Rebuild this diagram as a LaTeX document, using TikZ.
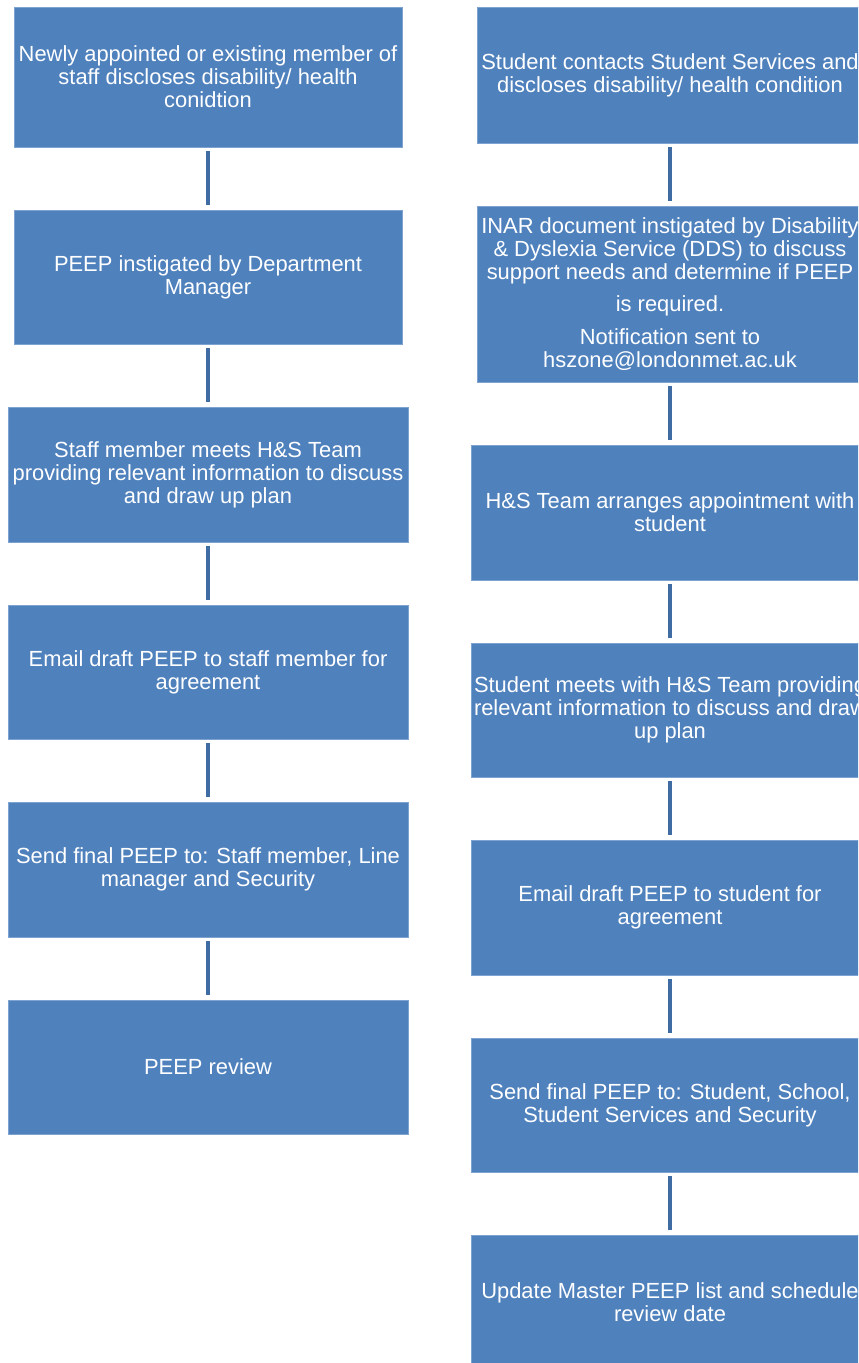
\documentclass[tikz,border=0pt]{standalone}
\usepackage{fontspec}
\setmainfont{Liberation Sans}
\definecolor{boxblue}{HTML}{4F81BD}
\definecolor{boxedge}{HTML}{7FA3D0}
\definecolor{linkblue}{HTML}{3E6CA3}
\begin{document}
\begin{tikzpicture}[x=1bp,y=-1bp,
  stepbox/.style={draw=boxedge,line width=0.8bp,fill=boxblue,text=white,
    align=center,inner sep=0pt,font=\fontsize{21.9bp}{23bp}\selectfont},
  link/.style={draw=linkblue,line width=4.5bp,shorten <=4bp,shorten >=4.5bp}]
\useasboundingbox (0,0) rectangle (858,1363);
\clip (0,0) rectangle (858,1363);
% left column
\node[stepbox,minimum width=388bp,minimum height=140bp] (L1) at (208,77)
  {Newly appointed or existing member of\\staff discloses disability/ health\\conidtion};
\node[stepbox,minimum width=388bp,minimum height=134bp] (L2) at (208,277)
  {PEEP instigated by Department\\Manager};
\node[stepbox,minimum width=400bp,minimum height=135bp] (L3) at (208,474.5)
  {Staff member meets H\&S Team\\providing relevant information to discuss\\and draw up plan};
\node[stepbox,minimum width=400bp,minimum height=134bp] (L4) at (208,672)
  {Email draft PEEP to staff member for\\agreement};
\node[stepbox,minimum width=400bp,minimum height=135bp] (L5) at (208,869.5)
  {Send final PEEP to: Staff member, Line\\manager and Security};
\node[stepbox,minimum width=400bp,minimum height=134bp] (L6) at (208,1067)
  {PEEP review};
\draw[link] (L1.south) -- (L2.north);
\draw[link] (L2.south) -- (L3.north);
\draw[link] (L3.south) -- (L4.north);
\draw[link] (L4.south) -- (L5.north);
\draw[link] (L5.south) -- (L6.north);
% right column
\node[stepbox,minimum width=386bp,minimum height=136bp] (R1) at (670,75)
  {Student contacts Student Services and\\discloses disability/ health condition};
\node[stepbox,minimum width=386bp,minimum height=176bp] (R2) at (670,294)
  {INAR document instigated by Disability\\\& Dyslexia Service (DDS) to discuss\\support needs and determine if PEEP\\[9bp]is required.\\[10bp]Notification sent to\\hszone@londonmet.ac.uk};
\node[stepbox,minimum width=398bp,minimum height=135bp] (R3) at (670,512.5)
  {H\&S Team arranges appointment with\\student};
\node[stepbox,minimum width=398bp,minimum height=134bp] (R4) at (670,710)
  {Student meets with H\&S Team providing\\relevant information to discuss and draw\\up plan};
\node[stepbox,minimum width=398bp,minimum height=135bp] (R5) at (670,907.5)
  {Email draft PEEP to student for\\agreement};
\node[stepbox,minimum width=398bp,minimum height=134bp] (R6) at (670,1105)
  {Send final PEEP to: Student, School,\\Student Services and Security};
\node[stepbox,minimum width=398bp,minimum height=134bp] (R7) at (670,1302)
  {Update Master PEEP list and schedule\\review date};
\draw[link] (R1.south) -- (R2.north);
\draw[link] (R2.south) -- (R3.north);
\draw[link] (R3.south) -- (R4.north);
\draw[link] (R4.south) -- (R5.north);
\draw[link] (R5.south) -- (R6.north);
\draw[link] (R6.south) -- (R7.north);
\end{tikzpicture}
\end{document}
